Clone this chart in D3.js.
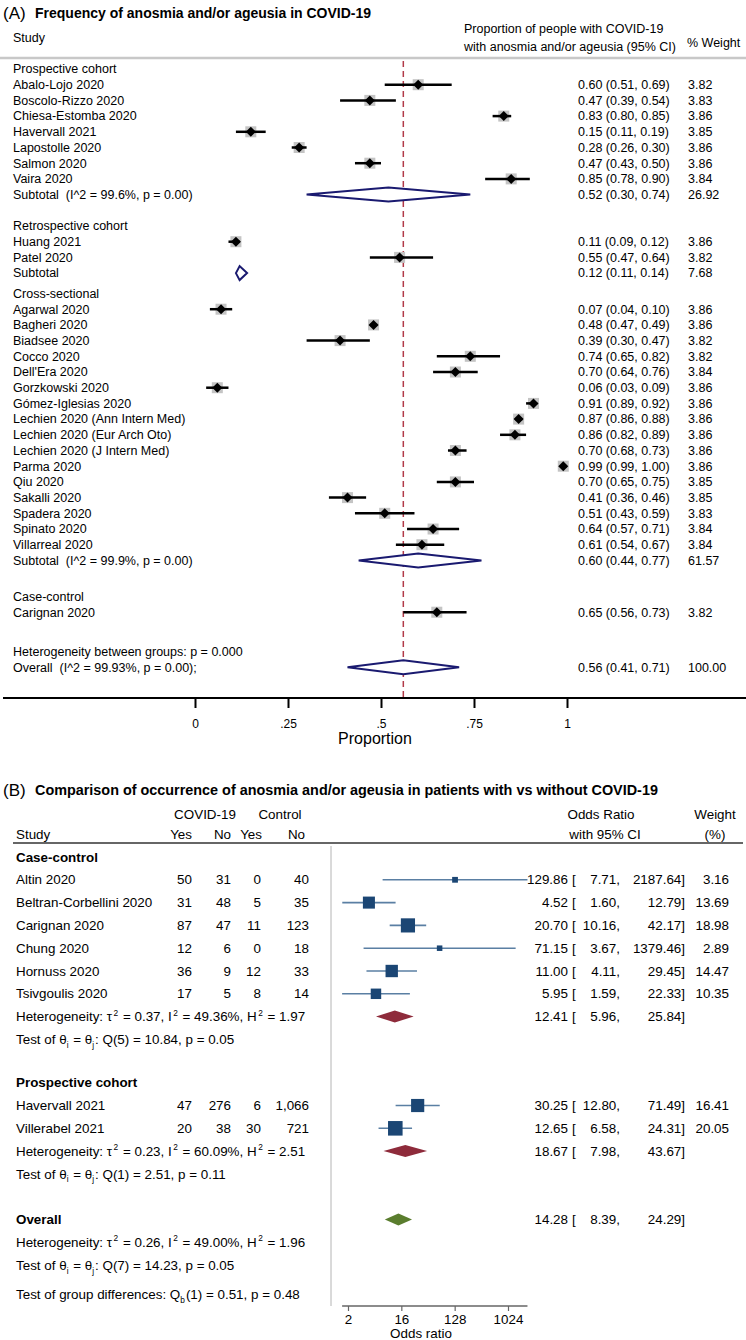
<!DOCTYPE html>
<html><head><meta charset="utf-8">
<script src="https://cdn.jsdelivr.net/npm/d3@7"></script>
<style>
body{margin:0;background:#fff;}
svg text{font-family:"Liberation Sans",Arial,sans-serif;fill:#000;white-space:pre;}
</style></head><body><svg id="c" width="746" height="1340"></svg>
<script>
// ---------------- Panel A data ----------------
const groupsA = ["Prospective cohort", "Retrospective cohort", "Cross-sectional", "Case-control"];
const studiesA = ["Abalo-Lojo 2020","Boscolo-Rizzo 2020","Chiesa-Estomba 2020","Havervall 2021","Lapostolle 2020","Salmon 2020","Vaira 2020",
  "Huang 2021","Patel 2020",
  "Agarwal 2020","Bagheri 2020","Biadsee 2020","Cocco 2020","Dell'Era 2020","Gorzkowski 2020","Gómez-Iglesias 2020","Lechien 2020 (Ann Intern Med)","Lechien 2020 (Eur Arch Oto)","Lechien 2020 (J Intern Med)","Parma 2020","Qiu 2020","Sakalli 2020","Spadera 2020","Spinato 2020","Villarreal 2020",
  "Carignan 2020"];
const groupOfA = [0,0,0,0,0,0,0, 1,1, 2,2,2,2,2,2,2,2,2,2,2,2,2,2,2,2, 3];
const propA = [0.60,0.47,0.83,0.15,0.28,0.47,0.85, 0.11,0.55, 0.07,0.48,0.39,0.74,0.70,0.06,0.91,0.87,0.86,0.70,0.99,0.70,0.41,0.51,0.64,0.61, 0.65];
const lowA  = [0.51,0.39,0.80,0.11,0.26,0.43,0.78, 0.09,0.47, 0.04,0.47,0.30,0.65,0.64,0.03,0.89,0.86,0.82,0.68,0.99,0.65,0.36,0.43,0.57,0.54, 0.56];
const highA = [0.69,0.54,0.85,0.19,0.30,0.50,0.90, 0.12,0.64, 0.10,0.49,0.47,0.82,0.76,0.09,0.92,0.88,0.89,0.73,1.00,0.75,0.46,0.59,0.71,0.67, 0.73];
const weightA = [3.82,3.83,3.86,3.85,3.86,3.86,3.84, 3.86,3.82, 3.86,3.86,3.82,3.82,3.84,3.86,3.86,3.86,3.86,3.86,3.86,3.85,3.85,3.83,3.84,3.84, 3.82];
const subLabelA = ["Subtotal  (I^2 = 99.6%, p = 0.00)", "Subtotal", "Subtotal  (I^2 = 99.9%, p = 0.00)"];
const subEstA  = [0.52, 0.12, 0.60];
const subLowA  = [0.30, 0.11, 0.44];
const subHighA = [0.74, 0.14, 0.77];
const subWeightA = ["26.92", "7.68", "61.57"];
const overallLabelA = "Overall  (I^2 = 99.93%, p = 0.00);";
const overallA = [0.56, 0.41, 0.71];
const overallWeightA = "100.00";
const hetBetweenA = "Heterogeneity between groups: p = 0.000";
const ticksA = [0, 0.25, 0.5, 0.75, 1];
const tickLabelsA = ["0", ".25", ".5", ".75", "1"];

// ---------------- Panel B data ----------------
const groupsB = ["Case-control", "Prospective cohort"];
const studiesB = ["Altin 2020","Beltran-Corbellini 2020","Carignan 2020","Chung 2020","Hornuss 2020","Tsivgoulis 2020","Havervall 2021","Villerabel 2021"];
const groupOfB = [0,0,0,0,0,0,1,1];
const covidYes = [50,31,87,12,36,17,47,20];
const covidNo  = [31,48,47,6,9,5,276,38];
const ctrlYes  = [0,5,11,0,12,8,6,30];
const ctrlNo   = [40,35,123,18,33,14,1066,721];
const orB    = [129.86,4.52,20.70,71.15,11.00,5.95,30.25,12.65];
const orLowB = [7.71,1.60,10.16,3.67,4.11,1.59,12.80,6.58];
const orHighB= [2187.64,12.79,42.17,1379.46,29.45,22.33,71.49,24.31];
const weightB= [3.16,13.69,18.98,2.89,14.47,10.35,16.41,20.05];
const subOrB   = [12.41, 18.67];
const subLowB  = [5.96, 7.98];
const subHighB = [25.84, 43.67];
const overallB = [14.28, 8.39, 24.29];
const hetTau = [0.37, 0.23, 0.26];
const hetI2  = [49.36, 60.09, 49.00];
const hetH2  = [1.97, 2.51, 1.96];
const qDf  = [5, 1, 7];
const qVal = [10.84, 2.51, 14.23];
const qP   = [0.05, 0.11, 0.05];
const qbDf = 1, qbVal = 0.51, qbP = 0.48;
const ticksB = [2, 16, 128, 1024];

// ---------------- drawing ----------------
const svg = d3.select("#c");
const f2 = d3.format(".2f");
const fc = d3.format(",");

function txt(g, x, y, s, opt = {}) {
  return g.append("text").attr("x", x).attr("y", y).attr("dy", "0.35em")
    .attr("font-size", opt.size || 12.5)
    .attr("font-weight", opt.bold ? "bold" : null)
    .attr("text-anchor", opt.anchor || "start")
    .text(s);
}
// rich text: superscripts / subscripts; baseline restored on the following part
function rich(g, x, y, parts, size) {
  const base = y + size * 0.35;
  const t = g.append("text").attr("x", x).attr("y", base).attr("font-size", size);
  let shift = 0;
  parts.forEach(p => {
    if (typeof p === "string") {
      t.append("tspan").attr("dy", -shift).attr("dx", shift !== 0 ? 1 : 0).text(p);
      shift = 0;
    } else {
      const s = p.sup ? -size * 0.42 : size * 0.28;
      t.append("tspan").attr("dx", p.sup ? 1.5 : 0).attr("dy", s).attr("font-size", size * 0.62).text(p.sup || p.sub);
      shift = s;
    }
  });
  return t;
}

// ===== Panel A =====
const A = svg.append("g");
const xA = d3.scaleLinear().domain([0, 1]).range([195, 567]);
const rowA = d3.scaleLinear().domain([0, 1]).range([69, 84.7]);
const groupStartA = [0, 10, 14.3, 33.6];

txt(A, 3, 13, "(A)", {size: 17});
txt(A, 35, 13, "Frequency of anosmia and/or ageusia in COVID-19", {size: 14, bold: true});
txt(A, 13, 38, "Study");
txt(A, 464, 29, "Proportion of people with COVID-19");
txt(A, 464, 47, "with anosmia and/or ageusia (95% CI)");
txt(A, 687, 43, "% Weight");
A.append("line").attr("x1", 0).attr("x2", 746).attr("y1", 58).attr("y2", 58)
  .attr("stroke", "#c8c8c8").attr("stroke-width", 2.5);

// reference dashed line
A.append("line").attr("x1", xA(overallA[0])).attr("x2", xA(overallA[0]))
  .attr("y1", 61).attr("y2", 697).attr("stroke", "#b23a48").attr("stroke-width", 1.5)
  .attr("stroke-dasharray", "6,4");

groupsA.forEach((gname, g) => {
  const s = groupStartA[g];
  txt(A, 13, rowA(s), gname);
  const idx = d3.range(studiesA.length).filter(i => groupOfA[i] === g);
  idx.forEach((i, k) => {
    const y = rowA(s + 1 + k);
    txt(A, 13, y, studiesA[i]);
    txt(A, 578, y, `${f2(propA[i])} (${f2(lowA[i])}, ${f2(highA[i])})`);
    txt(A, 688, y, f2(weightA[i]));
    const b = 11;
    A.append("rect").attr("x", xA(propA[i]) - b / 2).attr("y", y - b / 2).attr("width", b).attr("height", b).attr("fill", "#c4c4c4");
    A.append("line").attr("x1", xA(lowA[i])).attr("x2", xA(highA[i])).attr("y1", y).attr("y2", y)
      .attr("stroke", "#000").attr("stroke-width", 2.5);
    const cx = xA(propA[i]), h = 5;
    A.append("path").attr("d", `M${cx - h},${y}L${cx},${y - h}L${cx + h},${y}L${cx},${y + h}Z`).attr("fill", "#000");
  });
  if (g < subEstA.length) {
    const y = rowA(s + 1 + idx.length);
    txt(A, 13, y, subLabelA[g]);
    txt(A, 578, y, `${f2(subEstA[g])} (${f2(subLowA[g])}, ${f2(subHighA[g])})`);
    txt(A, 688, y, subWeightA[g]);
    const h = 7;
    A.append("path").attr("d", `M${xA(subLowA[g])},${y}L${xA(subEstA[g])},${y - h}L${xA(subHighA[g])},${y}L${xA(subEstA[g])},${y + h}Z`)
      .attr("fill", "#fff").attr("stroke", "#1a1a70").attr("stroke-width", 2);
  }
});
{
  const yh = rowA(37.1), yo = rowA(38.1);
  txt(A, 13, yh, hetBetweenA);
  txt(A, 13, yo, overallLabelA);
  txt(A, 578, yo, `${f2(overallA[0])} (${f2(overallA[1])}, ${f2(overallA[2])})`);
  txt(A, 688, yo, overallWeightA);
  const h = 7;
  A.append("path").attr("d", `M${xA(overallA[1])},${yo}L${xA(overallA[0])},${yo - h}L${xA(overallA[2])},${yo}L${xA(overallA[0])},${yo + h}Z`)
    .attr("fill", "#fff").attr("stroke", "#1a1a70").attr("stroke-width", 2);
}
// axis A
A.append("line").attr("x1", 3).attr("x2", 746).attr("y1", 698).attr("y2", 698).attr("stroke", "#000").attr("stroke-width", 2);
const axA = A.append("g").attr("transform", "translate(0,698)")
  .call(d3.axisBottom(xA).tickValues(ticksA).tickFormat((d, i) => tickLabelsA[i]).tickSize(10).tickPadding(11));
axA.select(".domain").remove();
axA.selectAll(".tick line").attr("stroke", "#000").attr("stroke-width", 2);
axA.selectAll(".tick text").attr("font-size", 12).attr("font-family", "Liberation Sans, Arial, sans-serif");
txt(A, 375, 738, "Proportion", {size: 16, anchor: "middle"});

// ===== Panel B =====
const B = svg.append("g");
const xB = d3.scaleLog().base(2).domain([2, 1024]).range([348, 508]);
const rowB = d3.scaleLinear().domain([0, 1]).range([857, 879.8]);
const groupStartB = [0, 9.9];
const colRight = [192, 231, 261, 309];
const fs = 13.4;

txt(B, 3, 790, "(B)", {size: 17});
txt(B, 35, 790, "Comparison of occurrence of anosmia and/or ageusia in patients with vs without COVID-19", {size: 14.4, bold: true});
txt(B, 205, 814, "COVID-19", {size: fs, anchor: "middle"});
txt(B, 280, 814, "Control", {size: fs, anchor: "middle"});
txt(B, 16, 834, "Study", {size: fs});
["Yes", "No", "Yes", "No"].forEach((s, i) => txt(B, colRight[i] + (i === 2 ? 1 : i === 3 ? -4 : 0), 834, s, {size: fs, anchor: "end"}));
txt(B, 601, 814, "Odds Ratio", {size: fs, anchor: "middle"});
txt(B, 605, 834, "with 95% CI", {size: fs, anchor: "middle"});
txt(B, 715, 814, "Weight", {size: fs, anchor: "middle"});
txt(B, 715, 834, "(%)", {size: fs, anchor: "middle"});
B.append("line").attr("x1", 13).attr("x2", 743).attr("y1", 843).attr("y2", 843).attr("stroke", "#333").attr("stroke-width", 1.5);
B.append("line").attr("x1", 331).attr("x2", 331).attr("y1", 846).attr("y2", 1306).attr("stroke", "#b4b4b4").attr("stroke-width", 1);

function orText(y, est, lo, hi, w) {
  txt(B, 568, y, f2(est), {size: fs, anchor: "end"});
  txt(B, 572, y, "[", {size: fs});
  txt(B, 620, y, f2(lo) + ",", {size: fs, anchor: "end"});
  txt(B, 685, y, f2(hi) + "]", {size: fs, anchor: "end"});
  if (w != null) txt(B, 729, y, f2(w), {size: fs, anchor: "end"});
}
function hetLines(y1, y2, k) {
  rich(B, 16, y1, ["Heterogeneity: \u03C4", {sup: "2"}, ` = ${f2(hetTau[k])}, I`, {sup: "2"}, ` = ${f2(hetI2[k])}%, H`, {sup: "2"}, ` = ${f2(hetH2[k])}`], fs);
  rich(B, 16, y2, ["Test of \u03B8", {sub: "i"}, " = \u03B8", {sub: "j"}, `: Q(${qDf[k]}) = ${f2(qVal[k])}, p = ${f2(qP[k])}`], fs);
}
function diamondB(y, est, lo, hi, color) {
  const h = 6;
  B.append("path").attr("d", `M${xB(lo)},${y}L${xB(est)},${y - h}L${xB(hi)},${y}L${xB(est)},${y + h}Z`).attr("fill", color);
}

groupsB.forEach((gname, g) => {
  const s = groupStartB[g];
  txt(B, 16, rowB(s), gname, {size: fs, bold: true});
  const idx = d3.range(studiesB.length).filter(i => groupOfB[i] === g);
  idx.forEach((i, k) => {
    const y = rowB(s + 1 + k);
    txt(B, 16, y, studiesB[i], {size: fs});
    [covidYes[i], covidNo[i], ctrlYes[i], ctrlNo[i]].forEach((v, c) => txt(B, colRight[c], y, fc(v), {size: fs, anchor: "end"}));
    orText(y, orB[i], orLowB[i], orHighB[i], weightB[i]);
    B.append("line").attr("x1", xB(orLowB[i])).attr("x2", xB(orHighB[i])).attr("y1", y).attr("y2", y)
      .attr("stroke", "#5a7fa3").attr("stroke-width", 1.6);
    const side = 3.25 * Math.sqrt(weightB[i]);
    B.append("rect").attr("x", xB(orB[i]) - side / 2).attr("y", y - side / 2).attr("width", side).attr("height", side).attr("fill", "#1b4674");
  });
  const yh = rowB(s + 1 + idx.length);
  hetLines(yh, rowB(s + 2 + idx.length), g);
  orText(yh, subOrB[g], subLowB[g], subHighB[g], null);
  diamondB(yh, subOrB[g], subLowB[g], subHighB[g], "#8e2b3b");
});
{
  const yo = rowB(15.9);
  txt(B, 16, yo, "Overall", {size: fs, bold: true});
  orText(yo, overallB[0], overallB[1], overallB[2], null);
  diamondB(yo, overallB[0], overallB[1], overallB[2], "#5a7d2e");
  hetLines(rowB(16.9), rowB(17.9), 2);
  rich(B, 16, rowB(19.2), ["Test of group differences: Q", {sub: "b"}, `(${qbDf}) = ${f2(qbVal)}, p = ${f2(qbP)}`], fs);
}
// axis B
const yAxB = 1306;
B.append("line").attr("x1", xB(d3.min(orLowB))).attr("x2", xB(d3.max(orHighB))).attr("y1", yAxB).attr("y2", yAxB)
  .attr("stroke", "#666").attr("stroke-width", 1.5);
const axB = B.append("g").attr("transform", `translate(0,${yAxB})`)
  .call(d3.axisBottom(xB).tickValues(ticksB).tickFormat(d3.format("d")).tickSize(5).tickPadding(3));
axB.select(".domain").remove();
axB.selectAll(".tick line").attr("stroke", "#666").attr("stroke-width", 1.2);
axB.selectAll(".tick text").attr("font-size", fs).attr("font-family", "Liberation Sans, Arial, sans-serif");
txt(B, 421, 1333, "Odds ratio", {size: fs, anchor: "middle"});
</script></body></html>
